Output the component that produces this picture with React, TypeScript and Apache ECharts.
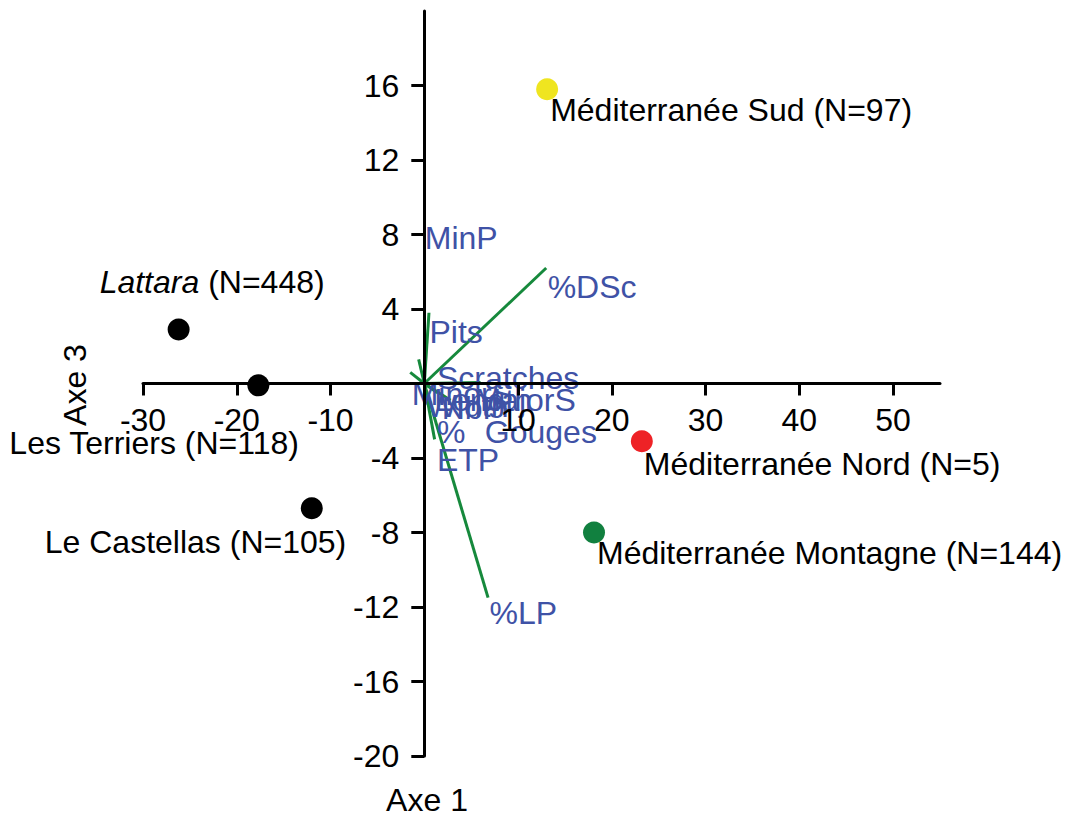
import React, { useEffect, useRef } from "react";
import * as echarts from "echarts";

// Sites (PCA scores)
const siteNames = [
  "Lattara (N=448)",
  "Les Terriers (N=118)",
  "Le Castellas (N=105)",
  "Méditerranée Sud (N=97)",
  "Méditerranée Nord (N=5)",
  "Méditerranée Montagne (N=144)",
];
const siteAxe1 = [-26.2, -17.7, -12.0, 13.1, 23.2, 18.1];
const siteAxe3 = [2.9, -0.1, -6.7, 15.8, -3.1, -8.0];
const siteColors = ["#000000", "#000000", "#000000", "#efe520", "#ee2226", "#11803f"];

// Variable vectors (loadings, scaled)
const vectorAxe1 = [13.0, 0.5, -0.6, -1.5, 6.0, 2.8, 1.4, 1.1, 6.8];
const vectorAxe3 = [6.2, 3.8, 1.3, 0.6, 0.05, -0.9, -0.5, -3.0, -11.5];

// Variable labels
const varNames = ["MinP", "%DSc", "Pits", "Scratches", "MajorS", "MinorS", "Width", "Length", "NbP", "%", "Gouges", "ETP", "%LP"];
const varLabelAxe1 = [0.0, 13.1, 0.5, 1.3, 5.3, -1.4, 0.2, 1.0, 1.8, 1.3, 6.4, 1.3, 6.9];
const varLabelAxe3 = [7.8, 5.2, 2.75, 0.3, -0.9, -0.55, -1.2, -0.9, -1.3, -2.6, -2.6, -4.1, -12.3];

// Axis ticks
const xTicks = [-30, -20, -10, 0, 10, 20, 30, 40, 50];
const xTickLabels = [-30, -20, -10, 10, 20, 30, 40, 50];
const yTicks = [-20, -16, -12, -8, -4, 0, 4, 8, 12, 16];
const yTickLabels = [-20, -16, -12, -8, -4, 4, 8, 12, 16];

const FONT = "'Liberation Sans', Arial, Helvetica, sans-serif";
const FS = 32;

// label offsets (px) for site labels, relative to 'right' position
const siteLabelOffsets: [number, number][] = [
  [-90, -47],
  [-260, 58],
  [-278, 34],
  [-8, 21],
  [-9, 23],
  [-8, 20],
];

export default function App() {
  const ref = useRef<HTMLDivElement>(null);
  useEffect(() => {
    if (!ref.current) return;
    const chart = echarts.init(ref.current, undefined, { renderer: "svg" });
    const option: any = {
      animation: false,
      grid: { left: 143, right: 128, top: 11, bottom: 62, containLabel: false, outerBoundsMode: "none" },
      xAxis: {
        type: "value",
        min: -30,
        max: 55,
        z: 10,
        splitLine: { show: false },
        axisLine: { onZero: false, lineStyle: { color: "#000", width: 3 } },
        axisTick: { show: true, length: 12, lineStyle: { color: "#000", width: 3 }, customValues: xTicks },
        axisLabel: { customValues: xTickLabels, margin: 20, fontSize: FS, color: "#000", fontFamily: FONT },
      },
      yAxis: {
        type: "value",
        min: -20,
        max: 20,
        z: 10,
        splitLine: { show: false },
        axisLine: { onZero: false, lineStyle: { color: "#000", width: 3 } },
        axisTick: { show: true, length: 13, lineStyle: { color: "#000", width: 3 }, customValues: yTicks },
        axisLabel: { customValues: yTickLabels, margin: 25, fontSize: FS, color: "#000", fontFamily: FONT },
      },
      graphic: [
        {
          type: "text",
          x: 75,
          y: 385,
          rotation: Math.PI / 2,
          style: { text: "Axe 3", fontSize: FS, fontFamily: FONT, fill: "#000", textAlign: "center", textVerticalAlign: "middle" },
        },
        {
          type: "text",
          x: 427,
          y: 800,
          style: { text: "Axe 1", fontSize: FS, fontFamily: FONT, fill: "#000", textAlign: "center", textVerticalAlign: "middle" },
        },
      ],
      series: [
        {
          type: "lines",
          coordinateSystem: "cartesian2d",
          polyline: false,
          z: 2,
          lineStyle: { color: "#16893c", width: 3, opacity: 1 },
          data: vectorAxe1.map((x, i) => ({ coords: [[0, 0], [x, vectorAxe3[i]]] })),
        },
        {
          type: "scatter",
          z: 3,
          symbolSize: 1,
          itemStyle: { color: "rgba(0,0,0,0)", opacity: 1 },
          label: {
            show: true,
            position: "right",
            distance: 0,
            opacity: 1,
            formatter: (p: any) => p.name,
            fontSize: FS,
            fontFamily: FONT,
            color: "#3f52a6",
          },
          data: varNames.map((n, i) => ({ name: n, value: [varLabelAxe1[i], varLabelAxe3[i]] })),
        },
        {
          type: "scatter",
          z: 4,
          symbolSize: 22,
          itemStyle: { opacity: 1 },
          data: siteNames.map((n, i) => {
            const isLattara = i === 0;
            return {
              name: n,
              value: [siteAxe1[i], siteAxe3[i]],
              itemStyle: { color: siteColors[i], opacity: 1 },
              label: {
                show: true,
                position: "right",
                distance: 0,
                opacity: 1,
                offset: siteLabelOffsets[i],
                fontSize: FS,
                fontFamily: FONT,
                color: "#000",
                formatter: isLattara ? "{i|Lattara}{n| (N=448)}" : n,
                rich: {
                  i: { fontStyle: "italic", fontSize: FS, fontFamily: FONT, color: "#000" },
                  n: { fontSize: FS, fontFamily: FONT, color: "#000" },
                },
              },
            };
          }),
        },
      ],
    };
    chart.setOption(option);
    // Move the axes so that they cross at the origin, using the chart's own scales
    const origin = chart.convertToPixel({ gridIndex: 0 }, [0, 0]) as number[];
    const leftPx = chart.convertToPixel({ xAxisIndex: 0 }, -30) as number;
    const bottomPx = chart.convertToPixel({ yAxisIndex: 0 }, -20) as number;
    chart.setOption({
      xAxis: { offset: -(bottomPx - origin[1]) },
      yAxis: { offset: -(origin[0] - leftPx) },
    });
    return () => chart.dispose();
  }, []);
  return <div ref={ref} style={{ position: "absolute", left: 0, top: 0, width: 1068, height: 818, background: "#fff" }} />;
}
